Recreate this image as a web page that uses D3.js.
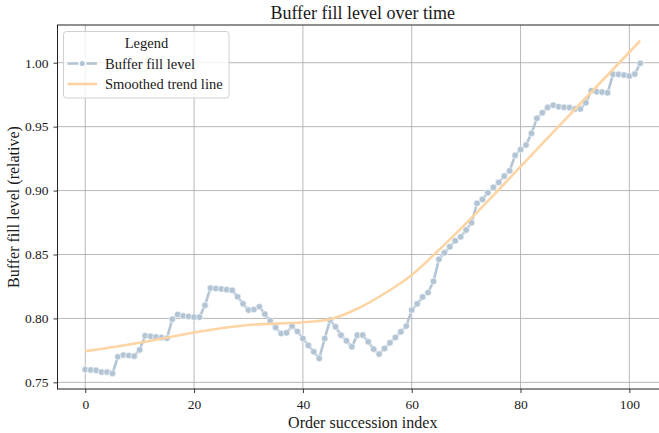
<!DOCTYPE html>
<html><head><meta charset="utf-8">
<script src="https://cdn.jsdelivr.net/npm/d3@7"></script>
<style>body{margin:0;background:#fff}svg{display:block}text{font-family:"Liberation Serif","DejaVu Serif",serif;fill:#1a1a1a}</style>
</head><body><div id="c"></div>
<script>
const bufferLevel = [0.760,0.7597,0.7594,0.758,0.758,0.757,0.770,0.7713,0.771,0.7705,
0.7754,0.7864,0.786,0.7855,0.785,0.7845,0.7994,0.8031,0.802,0.8015,
0.801,0.801,0.8102,0.8237,0.8234,0.823,0.8225,0.822,0.8169,0.8114,
0.8065,0.8070,0.8091,0.8034,0.7981,0.7929,0.7882,0.7887,0.7940,0.7898,
0.7843,0.7789,0.7739,0.7687,0.7843,0.7987,0.7934,0.7869,0.7825,0.7778,
0.7869,0.7869,0.7817,0.7760,0.7721,0.7765,0.7809,0.7851,0.7895,0.7940,
0.8065,0.8114,0.8167,0.8203,0.8290,0.8462,0.8513,0.8560,0.8607,0.8638,
0.8691,0.8748,0.8900,0.8931,0.8983,0.9025,0.9064,0.9113,0.9155,0.9275,
0.9320,0.9356,0.9447,0.9565,0.9609,0.9651,0.9667,0.9656,0.9651,0.9649,
0.9638,0.9638,0.9687,0.9781,0.9773,0.9770,0.9765,0.9909,0.9909,0.9904,
0.9896,0.9911,0.9995];
const orderIndex = bufferLevel.map((_, i) => i);
const trendX = [0,10,20,30,40,45,50,55,60,65,70,75,80,90,102];
const trendY = [0.7744,0.781,0.789,0.7948,0.7970,0.7994,0.8076,0.8195,0.8340,0.8535,0.8743,0.8962,0.9188,0.9636,1.0172];
const xTicks = [0,20,40,60,80,100];
const yTicks = [0.75,0.80,0.85,0.90,0.95,1.00];
const titleText = "Buffer fill level over time";
const xLabel = "Order succession index";
const yLabel = "Buffer fill level (relative)";
const legendTitle = "Legend";
const seriesNames = ["Buffer fill level","Smoothed trend line"];

const W = 659, H = 433;
const L = 57.5, R = 668, T = 25, B = 389;
const blue = "#b3c5d5", orange = "#fdd3a0";
const svg = d3.select("#c").append("svg").attr("width", W).attr("height", H);
const x = d3.scaleLinear().domain([-5.1, 107.1]).range([L, R]);
const y = d3.scaleLinear().domain([0.7448, 1.0295]).range([B, T]);

// grid
const g = svg.append("g");
g.selectAll(".gx").data(xTicks).join("line").attr("x1", d => x(d)).attr("x2", d => x(d))
  .attr("y1", T).attr("y2", B).attr("stroke", "#b0b0b0").attr("stroke-width", 0.9);
g.selectAll(".gy").data(yTicks).join("line").attr("y1", d => y(d)).attr("y2", d => y(d))
  .attr("x1", L).attr("x2", R).attr("stroke", "#b0b0b0").attr("stroke-width", 0.9);

// axes
const xAxis = d3.axisBottom(x).tickValues(xTicks).tickSize(4).tickPadding(6).tickFormat(d3.format("d"));
const yAxis = d3.axisLeft(y).tickValues(yTicks).tickSize(4).tickPadding(5).tickFormat(d3.format(".2f"));
const gx = svg.append("g").attr("transform", `translate(0,${B})`).call(xAxis);
const gy = svg.append("g").attr("transform", `translate(${L},0)`).call(yAxis);
[gx, gy].forEach(a => {
  a.attr("font-family", null);
  a.select(".domain").remove();
  a.selectAll(".tick line").attr("stroke", "#222").attr("stroke-width", 0.9);
  a.selectAll(".tick text").style("font-family", "'Liberation Serif',serif").attr("font-size", 13.5).attr("fill", "#222");
});
// frame
svg.append("rect").attr("x", L).attr("y", T).attr("width", R - L).attr("height", B - T)
  .attr("fill", "none").attr("stroke", "#222").attr("stroke-width", 1);

// series
const pts = orderIndex.map((d, i) => [d, bufferLevel[i]]);
svg.append("path").datum(pts).attr("fill", "none").attr("stroke", blue).attr("stroke-width", 2.6)
  .attr("d", d3.line().x(d => x(d[0])).y(d => y(d[1])));
svg.selectAll(".pt").data(pts).join("circle").attr("cx", d => x(d[0])).attr("cy", d => y(d[1]))
  .attr("r", 3.3).attr("fill", blue).attr("stroke", "#fff").attr("stroke-width", 0.6);
const tr = trendX.map((d, i) => [d, trendY[i]]);
svg.append("path").datum(tr).attr("fill", "none").attr("stroke", orange).attr("stroke-width", 2.6)
  .attr("opacity", 0.95)
  .attr("d", d3.line().curve(d3.curveMonotoneX).x(d => x(d[0])).y(d => y(d[1])));

// legend
const lg = svg.append("g");
lg.append("rect").attr("x", 63.5).attr("y", 31.5).attr("width", 165.5).attr("height", 66.5).attr("rx", 3)
  .attr("fill", "#fff").attr("fill-opacity", 0.8).attr("stroke", "#d0d0d0");
lg.append("text").attr("x", 146.5).attr("y", 47.5).attr("text-anchor", "middle").attr("font-size", 14.5).text(legendTitle);
lg.append("line").attr("x1", 67.5).attr("x2", 97).attr("y1", 63.5).attr("y2", 63.5).attr("stroke", blue).attr("stroke-width", 2.6);
lg.append("circle").attr("cx", 82.3).attr("cy", 63.5).attr("r", 3.3).attr("fill", blue).attr("stroke", "#fff").attr("stroke-width", 1.5);
lg.append("line").attr("x1", 67.5).attr("x2", 97).attr("y1", 84).attr("y2", 84).attr("stroke", orange).attr("stroke-width", 2.6);
lg.selectAll(".lt").data(seriesNames).join("text").attr("x", 105).attr("y", (d, i) => 68.5 + i * 20.5)
  .attr("font-size", 14.5).text(d => d);

// titles
svg.append("text").attr("x", (L + R) / 2).attr("y", 19).attr("text-anchor", "middle").attr("font-size", 18).text(titleText);
svg.append("text").attr("x", (L + R) / 2).attr("y", 428).attr("text-anchor", "middle").attr("font-size", 16).text(xLabel);
svg.append("text").attr("transform", `translate(19,${(T + B) / 2}) rotate(-90)`).attr("text-anchor", "middle").attr("font-size", 16).text(yLabel);
</script></body></html>
